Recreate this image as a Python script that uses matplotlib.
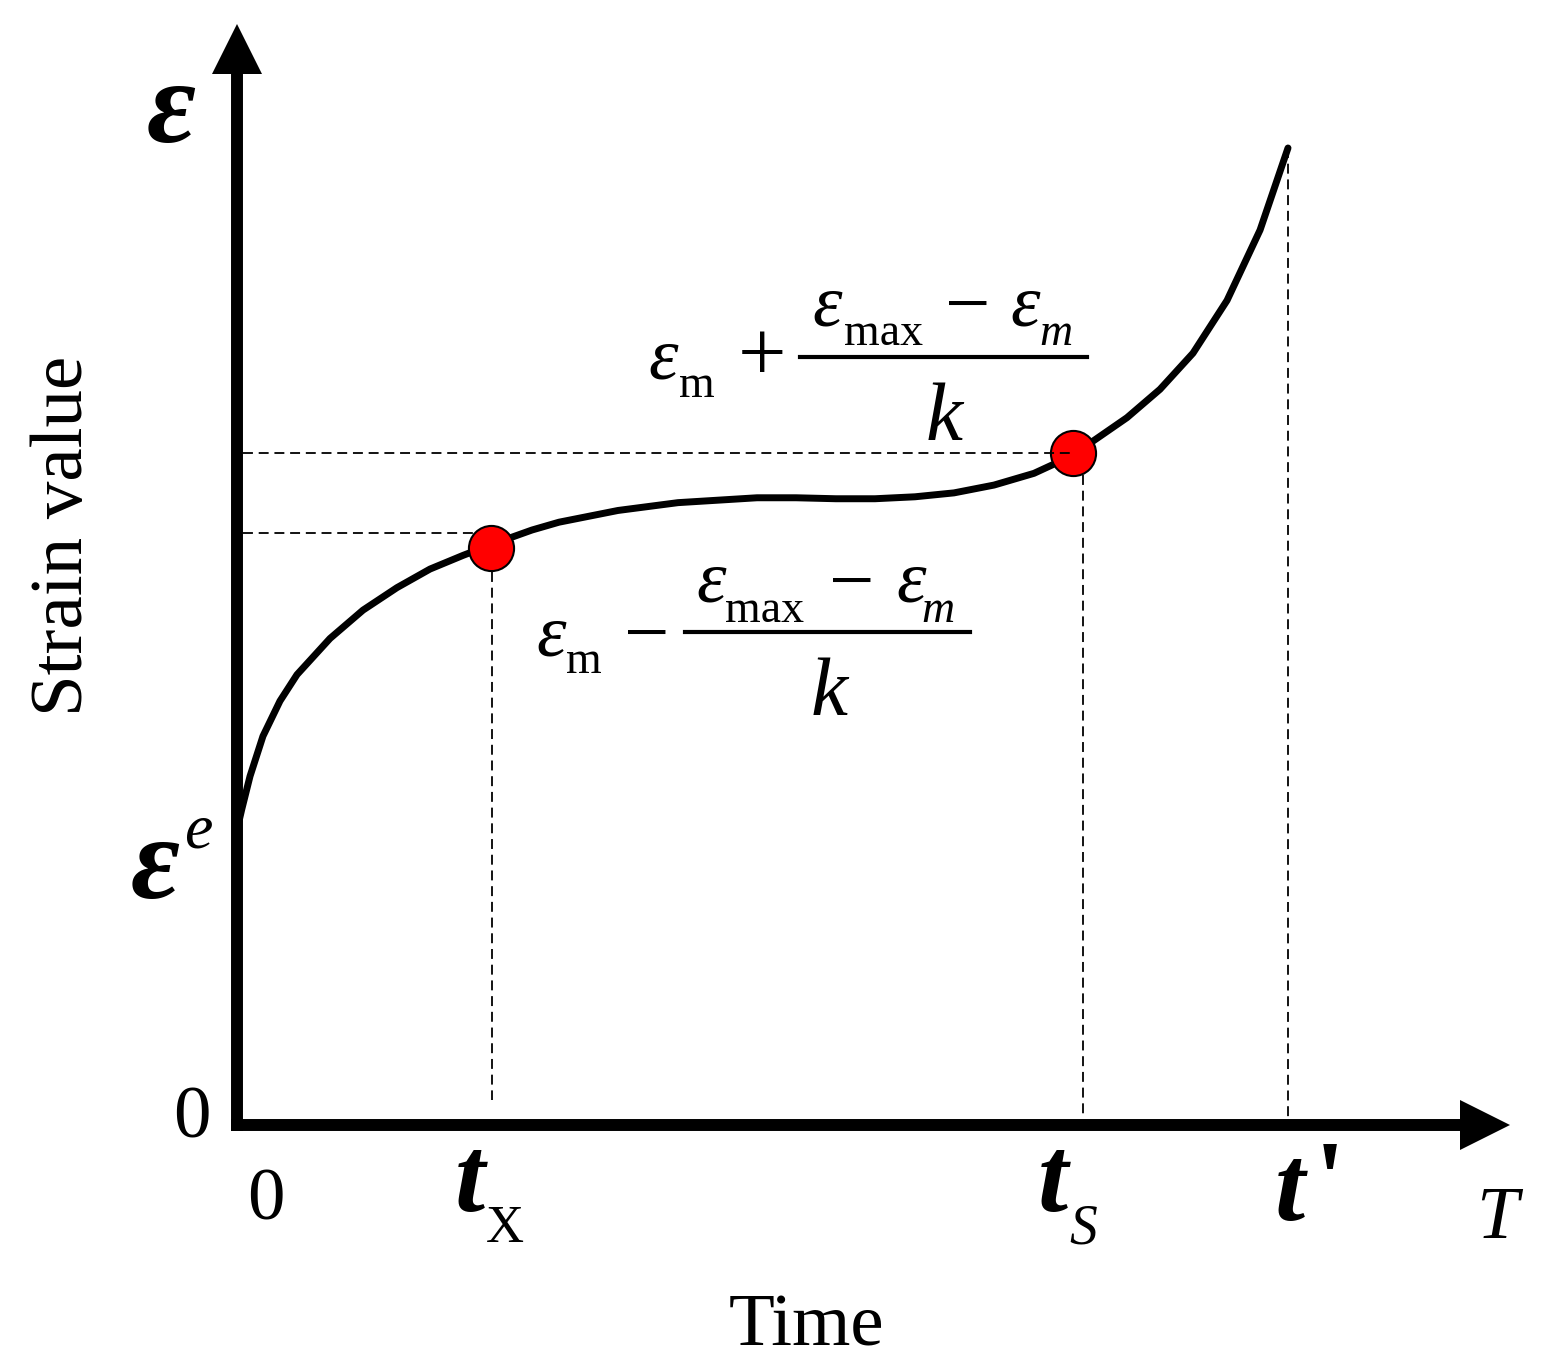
import matplotlib
matplotlib.use('Agg')
import matplotlib.pyplot as plt
from matplotlib.lines import Line2D

plt.rcParams['font.family'] = 'Liberation Serif'

W, H = 1554, 1371

# creep curve: time normalised so t' = 1, strain normalised so eps(t') = 1
t_curve = [0.0, 0.0045, 0.0124, 0.0247, 0.0409, 0.0571, 0.0885, 0.1199,
           0.1522, 0.1836, 0.2150, 0.2417, 0.2807, 0.3064, 0.3625,
           0.4196, 0.4948, 0.5319, 0.5699, 0.6070, 0.6451, 0.6822, 0.7203,
           0.7583, 0.7764, 0.7954, 0.8145, 0.8468, 0.8782, 0.9096, 0.9420,
           0.9734, 1.0]
eps_curve = [0.302, 0.323, 0.357, 0.398, 0.434, 0.461, 0.498, 0.527,
             0.550, 0.569, 0.583, 0.594, 0.609, 0.617, 0.629,
             0.637, 0.642, 0.642, 0.641, 0.641, 0.643, 0.647, 0.655,
             0.667, 0.676, 0.687, 0.700, 0.724, 0.753, 0.790, 0.844,
             0.916, 1.0]

# characteristic points
t_x, eps_x = 0.2417, 0.591
t_s, eps_s = 0.7954, 0.688
t_end, eps_end = 1.0, 1.0
eps_x_guide = 0.606
t_s_guide = 0.805

fig = plt.figure(figsize=(W / 100, H / 100), dpi=100)
ax = fig.add_axes([0, 0, 1, 1])
ax.set_xlim(-237 / 1051, 1317 / 1051)
ax.set_ylim(-246 / 977, 1125 / 977)
ax.axis('off')

# axes with arrows
ax.plot([-0.0057, 1.175], [0, 0], color='k', lw=8.6, solid_capstyle='butt', zorder=4)
ax.plot([0, 0], [-0.0061, 1.085], color='k', lw=8.6, solid_capstyle='butt', zorder=4)
ax.plot(1.1874, 0, marker='>', ms=36, color='k', mew=0, zorder=4)
ax.plot(0, 1.1018, marker='^', ms=36, color='k', mew=0, zorder=4)

# curve
ax.plot(t_curve, eps_curve, color='k', lw=5, solid_capstyle='round',
        solid_joinstyle='round', zorder=2)

# points
ax.plot([t_x, t_s], [eps_x, eps_s], 'o', ms=32.5, mfc='red', mec='k', mew=1.5, zorder=3)

# guide lines
dash = dict(color='k', lw=1.3, dashes=(5.5, 3.2), zorder=5)
ax.plot([0.006, t_s + 0.002], [eps_s, eps_s], **dash)
ax.plot([0.006, 0.229], [eps_x_guide, eps_x_guide], **dash)
ax.plot([t_x + 0.001, t_x + 0.001], [0.566, 0.026], **dash)
ax.plot([t_s_guide, t_s_guide], [0.665, 0.006], **dash)
ax.plot([t_end, t_end], [eps_end, 0.006], **dash)


def put(px, py, s, size, **kw):
    kw.setdefault('ha', 'center')
    kw.setdefault('va', 'baseline')
    fig.text(px / W, 1 - py / H, s, fontsize=size, **kw)


def bar(x0, x1, py):
    fig.add_artist(Line2D([x0 / W, x1 / W], [1 - py / H, 1 - py / H],
                          color='k', lw=3, transform=fig.transFigure))


# axis labels
put(82, 536, 'Strain value', 54, rotation=90, rotation_mode='anchor')
put(806, 1345, 'Time', 54)
put(171, 142, 'ε', 86, style='italic', weight='bold')
put(1497, 1238, 'T', 54, style='italic')
put(192, 1138, '0', 54)
put(266, 1220, '0', 54)

# eps^e
put(155, 898, 'ε', 86, style='italic', weight='bold')
put(198, 848, 'e', 46, style='italic')

# time marks
put(470, 1211, 't', 78, style='italic', weight='bold')
put(505, 1242, 'X', 38)
put(1053, 1211, 't', 78, style='italic', weight='bold')
put(1083, 1243, 'S', 40, style='italic')
put(1290, 1220, 't', 78, style='italic', weight='bold')
put(1330, 1214, "'", 78, weight='bold')

# upper formula
put(663, 378, 'ε', 54, style='italic')
put(697, 397, 'm', 33)
put(762, 381, '+', 62)
bar(800, 1087, 357)
put(827, 325, 'ε', 54, style='italic')
put(883, 345, 'max', 33)
put(968, 330, '−', 58)
put(1025, 325, 'ε', 54, style='italic')
put(1056, 345, 'm', 33, style='italic')
put(944, 440, 'k', 60, style='italic')

# lower formula
put(551, 655, 'ε', 54, style='italic')
put(584, 673, 'm', 33)
put(647, 659, '−', 58)
bar(685, 970, 632)
put(711, 602, 'ε', 54, style='italic')
put(765, 622, 'max', 33)
put(852, 607, '−', 58)
put(911, 602, 'ε', 54, style='italic')
put(938, 622, 'm', 33, style='italic')
put(829, 715, 'k', 60, style='italic')

fig.savefig('out.png', dpi=100, facecolor='white')
